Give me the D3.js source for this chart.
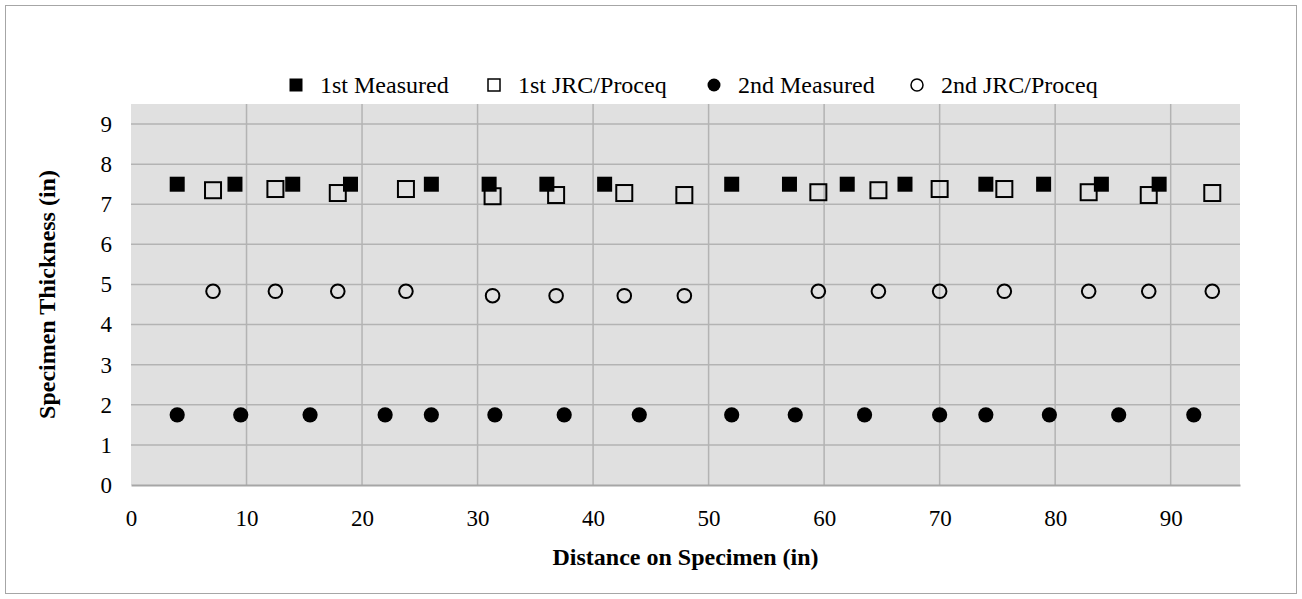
<!DOCTYPE html>
<html>
<head>
<meta charset="utf-8">
<script src="https://cdn.jsdelivr.net/npm/d3@7/dist/d3.min.js"></script>
<style>
  html, body { margin: 0; padding: 0; background: #ffffff; }
  svg { display: block; }
  svg text { font-family: "Liberation Serif", "Times New Roman", serif !important; fill: #000; }
</style>
</head>
<body>
<svg id="chart" width="1302" height="599" font-family="Liberation Serif, serif"></svg>
<script>
// ---- Data ----
const m1X = [4, 9, 14, 19, 26, 31, 36, 41, 52, 57, 62, 67, 74, 79, 84, 89];
const m1Y = [7.5, 7.5, 7.5, 7.5, 7.5, 7.5, 7.5, 7.5, 7.5, 7.5, 7.5, 7.5, 7.5, 7.5, 7.5, 7.5];
const jrcX = [7.1, 12.5, 17.9, 23.8, 31.3, 36.8, 42.7, 47.9, 59.5, 64.7, 70.0, 75.6, 82.9, 88.1, 93.6];
const jrc1Y = [7.35, 7.38, 7.28, 7.38, 7.2, 7.23, 7.28, 7.23, 7.3, 7.35, 7.38, 7.38, 7.3, 7.23, 7.28];
const jrc2Y = [4.83, 4.83, 4.83, 4.83, 4.72, 4.72, 4.72, 4.72, 4.83, 4.83, 4.83, 4.83, 4.83, 4.83, 4.83];
const m2X = [4, 9.5, 15.5, 22, 26, 31.5, 37.5, 44, 52, 57.5, 63.5, 70, 74, 79.5, 85.5, 92];
const m2Y = [1.75, 1.75, 1.75, 1.75, 1.75, 1.75, 1.75, 1.75, 1.75, 1.75, 1.75, 1.75, 1.75, 1.75, 1.75, 1.75];
const xTicks = [0, 10, 20, 30, 40, 50, 60, 70, 80, 90];
const yTicks = [0, 1, 2, 3, 4, 5, 6, 7, 8, 9];
const seriesNames = ["1st Measured", "1st JRC/Proceq", "2nd Measured", "2nd JRC/Proceq"];
const xTitle = "Distance on Specimen (in)";
const yTitle = "Specimen Thickness (in)";

// ---- Layout ----
const FONT = '"Liberation Serif", "Times New Roman", serif';
const svg = d3.select("#chart");
const W = 1302, H = 599;
const plot = { left: 131, right: 1240, top: 104, bottom: 485 };

svg.append("rect").attr("x", 5.5).attr("y", 5.5).attr("width", W - 11).attr("height", H - 11)
  .attr("fill", "#fff").attr("stroke", "#a6a6a6").attr("stroke-width", 1);

const x = d3.scaleLinear().domain([0, 96]).range([plot.left, plot.right]);
const y = d3.scaleLinear().domain([0, 9.5]).range([plot.bottom, plot.top]);

svg.append("rect").attr("x", plot.left).attr("y", plot.top)
  .attr("width", plot.right - plot.left).attr("height", plot.bottom - plot.top)
  .attr("fill", "#e0e0e0");

// gridlines
const grid = svg.append("g");
grid.selectAll("line.h").data(yTicks.filter(d => d > 0)).join("line")
  .attr("x1", plot.left).attr("x2", plot.right)
  .attr("y1", d => y(d)).attr("y2", d => y(d))
  .attr("stroke", "#b3b3b3").attr("stroke-width", 1.5);
grid.selectAll("line.v").data(xTicks.filter(d => d > 0)).join("line")
  .attr("y1", plot.top).attr("y2", plot.bottom)
  .attr("x1", d => x(d)).attr("x2", d => x(d))
  .attr("stroke", "#b3b3b3").attr("stroke-width", 1.5);

// axes
const TICK_FS = "23px";
const xAxis = svg.append("g").attr("transform", `translate(0,${plot.bottom})`)
  .call(d3.axisBottom(x).tickValues(xTicks).tickSize(0).tickPadding(25).tickFormat(d3.format("d")));
xAxis.attr("font-family", FONT).attr("font-size", 23);
xAxis.select(".domain").attr("stroke", "#a6a6a6").attr("stroke-width", 2);
xAxis.selectAll("text").style("font-size", TICK_FS).style("font-family", FONT);

const yAxis = svg.append("g").attr("transform", `translate(${plot.left},0)`)
  .call(d3.axisLeft(y).tickValues(yTicks).tickSize(0).tickPadding(19).tickFormat(d3.format("d")));
yAxis.attr("font-family", FONT).attr("font-size", 23);
yAxis.select(".domain").remove();
yAxis.selectAll("text").style("font-size", TICK_FS).style("font-family", FONT);

// titles
svg.append("text").attr("x", (plot.left + plot.right) / 2).attr("y", 565)
  .attr("text-anchor", "middle").style("font-size", "24px").style("font-weight", "bold")
  .style("font-family", FONT).text(xTitle);
svg.append("text").attr("transform", `translate(55,${(plot.top + plot.bottom) / 2}) rotate(-90)`)
  .attr("text-anchor", "middle").style("font-size", "24px").style("font-weight", "bold")
  .style("font-family", FONT).text(yTitle);

// marks
const sq = 15, osq = 18, cr = 7.6, ocr = 7.8;
const pts = (xs, ys) => xs.map((v, i) => ({ x: v, y: ys[i] }));
const marks = svg.append("g");
marks.selectAll("rect.m1").data(pts(m1X, m1Y)).join("rect")
  .attr("x", d => x(d.x) - sq / 2).attr("y", d => y(d.y) - sq / 2)
  .attr("width", sq).attr("height", sq).attr("fill", "#000");
marks.selectAll("rect.j1").data(pts(jrcX, jrc1Y)).join("rect")
  .attr("x", d => x(d.x) - osq / 2 + 1).attr("y", d => y(d.y) - osq / 2 + 1)
  .attr("width", osq - 2).attr("height", osq - 2)
  .attr("fill", "none").attr("stroke", "#000").attr("stroke-width", 2);
marks.selectAll("circle.m2").data(pts(m2X, m2Y)).join("circle")
  .attr("cx", d => x(d.x)).attr("cy", d => y(d.y)).attr("r", cr).attr("fill", "#000");
marks.selectAll("circle.j2").data(pts(jrcX, jrc2Y)).join("circle")
  .attr("cx", d => x(d.x)).attr("cy", d => y(d.y)).attr("r", ocr - 1)
  .attr("fill", "none").attr("stroke", "#000").attr("stroke-width", 2);

// legend
const legendX = [296, 494, 714, 917];
const lg = svg.append("g");
const ly = 85;
seriesNames.forEach((name, i) => {
  const g = lg.append("g").attr("transform", `translate(${legendX[i]},${ly})`);
  if (i === 0) g.append("rect").attr("x", -6.5).attr("y", -6.5).attr("width", 13).attr("height", 13).attr("fill", "#000");
  if (i === 1) g.append("rect").attr("x", -6).attr("y", -6).attr("width", 12).attr("height", 12).attr("fill", "none").attr("stroke", "#000").attr("stroke-width", 1.5);
  if (i === 2) g.append("circle").attr("r", 6.5).attr("fill", "#000");
  if (i === 3) g.append("circle").attr("r", 6).attr("fill", "none").attr("stroke", "#000").attr("stroke-width", 1.5);
  g.append("text").attr("x", 24).attr("y", 8).style("font-size", "24px").style("font-family", FONT).text(name);
});
</script>
</body>
</html>
